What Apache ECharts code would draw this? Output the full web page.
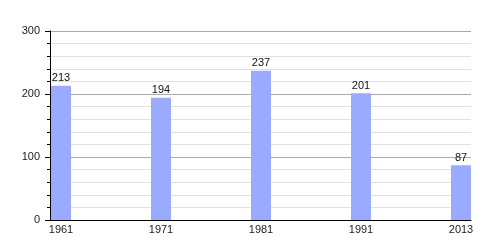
<!DOCTYPE html>
<html><head><meta charset="utf-8">
<script src="https://cdn.jsdelivr.net/npm/echarts@6/dist/echarts.min.js"></script>
<style>html,body{margin:0;padding:0;background:#fff}#c{width:500px;height:250px}</style>
</head><body><div id="c"></div>
<script>
const years = ['1961','1971','1981','1991','2013'];
const values = [213, 194, 237, 201, 87];
const yTicks = [0, 100, 200, 300];

const chart = echarts.init(document.getElementById('c'), null, {renderer:'canvas'});
const positions = years.map((y,i)=>i);
chart.setOption({
  animation:false,
  grid:{left:50, right:29, top:31, bottom:30, containLabel:false},
  xAxis:{
    type:'value', min:-0.11, max:4.1,
    axisLine:{show:true, onZero:false, lineStyle:{color:'#000', width:1}},
    axisTick:{show:false},
    splitLine:{show:false},
    axisLabel:{customValues:positions, formatter:v=>years[Math.round(v)], color:'#222', fontFamily:'Liberation Sans, Arial', fontSize:11, margin:4}
  },
  yAxis:{
    type:'value', min:yTicks[0], max:yTicks[yTicks.length-1], interval:100,
    axisLine:{show:true, onZero:false, lineStyle:{color:'#000', width:1}},
    axisTick:{show:true, length:5, lineStyle:{color:'#000'}},
    minorTick:{show:true, splitNumber:5, length:3, lineStyle:{color:'#000'}},
    splitLine:{show:true, lineStyle:{color:'#aaa', width:1}},
    minorSplitLine:{show:true, lineStyle:{color:'#e2e2e2', width:1}},
    axisLabel:{color:'#222', fontFamily:'Liberation Sans, Arial', fontSize:11, margin:10}
  },
  series:[{
    type:'bar',
    data: values.map((v,i)=>[positions[i], v]),
    barWidth:20,
    itemStyle:{color:'#99aaff'},
    label:{show:true, position:'top', distance:2, color:'#111', fontFamily:'Liberation Sans, Arial', fontSize:11}
  }]
});
</script></body></html>
